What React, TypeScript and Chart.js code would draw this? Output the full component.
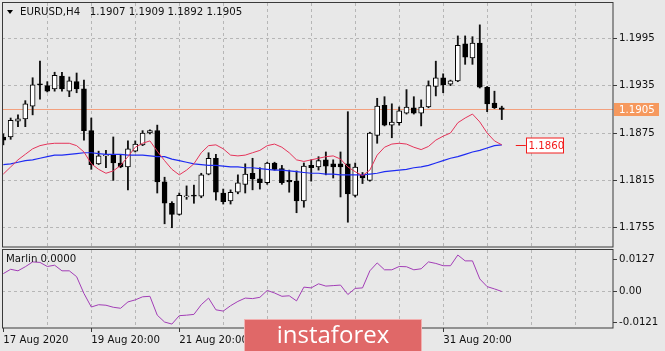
import React, { useEffect, useRef } from "react";
import { Chart, registerables } from "chart.js";

Chart.register(...registerables);

// ---------- data ----------
const SYMBOL = "EURUSD";
const TIMEFRAME = "H4";
const INDICATOR_NAME = "Marlin";

const OPEN = [
  1.1870, 1.1870, 1.1890, 1.1893, 1.1909, 1.1937, 1.1935, 1.1931, 1.1947, 1.1928,
  1.1940, 1.1931, 1.1878, 1.1836, 1.1846, 1.1848, 1.1837, 1.1832, 1.1852, 1.1860,
  1.1875, 1.1878, 1.1813, 1.1786, 1.1772, 1.1794, 1.1796, 1.1795, 1.1823, 1.1843,
  1.1799, 1.1789, 1.1800, 1.1810, 1.1824, 1.1817, 1.1812, 1.1837, 1.1830, 1.1815,
  1.1814, 1.1789, 1.1834, 1.1832, 1.1841, 1.1836, 1.1836, 1.1836, 1.1796, 1.1822,
  1.1815, 1.1872, 1.1910, 1.1885, 1.1888, 1.1900, 1.1907, 1.1900, 1.1908, 1.1934,
  1.1945, 1.1937, 1.1941, 1.1988, 1.1970, 1.1989, 1.1933, 1.1913, 1.1907,
];
const HIGH = [
  1.1874, 1.1894, 1.1898, 1.1916, 1.1945, 1.1966, 1.1940, 1.1952, 1.1952, 1.1946,
  1.1951, 1.1942, 1.1894, 1.1852, 1.1853, 1.1870, 1.1848, 1.1865, 1.1865, 1.1878,
  1.1879, 1.1885, 1.1819, 1.1788, 1.1799, 1.1808, 1.1809, 1.1824, 1.1850, 1.1848,
  1.1804, 1.1803, 1.1822, 1.1836, 1.1843, 1.1831, 1.1838, 1.1838, 1.1834, 1.1828,
  1.1827, 1.1837, 1.1841, 1.1845, 1.1851, 1.1841, 1.1851, 1.1902, 1.1837, 1.1825,
  1.1876, 1.1919, 1.1921, 1.1912, 1.1908, 1.1930, 1.1921, 1.1917, 1.1941, 1.1966,
  1.1950, 1.1942, 1.1998, 1.1998, 1.1997, 1.2012, 1.1934, 1.1928, 1.1909,
];
const LOW = [
  1.1860, 1.1867, 1.1883, 1.1883, 1.1898, 1.1918, 1.1927, 1.1928, 1.1928, 1.1921,
  1.1926, 1.1866, 1.1829, 1.1835, 1.1831, 1.1815, 1.1831, 1.1803, 1.1851, 1.1859,
  1.1874, 1.1799, 1.1760, 1.1755, 1.1771, 1.1791, 1.1786, 1.1793, 1.1822, 1.1790,
  1.1785, 1.1785, 1.1798, 1.1799, 1.1803, 1.1804, 1.1810, 1.1828, 1.1810, 1.1800,
  1.1774, 1.1781, 1.1814, 1.1828, 1.1822, 1.1818, 1.1794, 1.1762, 1.1794, 1.1811,
  1.1814, 1.1862, 1.1884, 1.1869, 1.1885, 1.1899, 1.1899, 1.1884, 1.1907, 1.1922,
  1.1926, 1.1935, 1.1940, 1.1962, 1.1962, 1.1932, 1.1902, 1.1906, 1.1892,
];
const CLOSE = [
  1.1866, 1.1891, 1.1893, 1.1912, 1.1936, 1.1936, 1.1928, 1.1948, 1.1931, 1.1941,
  1.1931, 1.1878, 1.1835, 1.1846, 1.1847, 1.1837, 1.1832, 1.1855, 1.1861, 1.1875,
  1.1878, 1.1813, 1.1786, 1.1772, 1.1796, 1.1795, 1.1795, 1.1822, 1.1843, 1.1800,
  1.1788, 1.1800, 1.1812, 1.1823, 1.1817, 1.1812, 1.1837, 1.1829, 1.1812, 1.1813,
  1.1789, 1.1833, 1.1831, 1.1840, 1.1833, 1.1832, 1.1832, 1.1798, 1.1832, 1.1818,
  1.1875, 1.1909, 1.1885, 1.1889, 1.1903, 1.1908, 1.1900, 1.1908, 1.1935, 1.1945,
  1.1936, 1.1941, 1.1986, 1.1971, 1.1989, 1.1933, 1.1912, 1.1907, 1.1905,
];
const MA_FAST = [
  1.1823, 1.1832, 1.1841, 1.1848, 1.1855, 1.1859, 1.1861, 1.1862, 1.1862, 1.1862,
  1.1859, 1.1851, 1.1836, 1.1829, 1.1824, 1.1827, 1.1834, 1.1845, 1.1857, 1.1862,
  1.1865, 1.1852, 1.1840, 1.1829, 1.1822, 1.1828, 1.1836, 1.1850, 1.1859, 1.1860,
  1.1855, 1.1847, 1.1846, 1.1847, 1.1850, 1.1853, 1.1859, 1.1861, 1.1857, 1.1850,
  1.1841, 1.1839, 1.1841, 1.1843, 1.1845, 1.1846, 1.1842, 1.1832, 1.1826, 1.1821,
  1.1828, 1.1847, 1.1857, 1.1861, 1.1862, 1.1861, 1.1857, 1.1854, 1.1858, 1.1866,
  1.1871, 1.1875, 1.1888, 1.1894, 1.1899, 1.1889, 1.1875, 1.1865, 1.1860,
];
const MA_SLOW = [
  1.1835, 1.1836, 1.1838, 1.1840, 1.1841, 1.1843, 1.1845, 1.1847, 1.1847, 1.1848,
  1.1849, 1.1850, 1.1850, 1.1849, 1.1848, 1.1848, 1.1848, 1.1847, 1.1847, 1.1847,
  1.1846, 1.1845, 1.1845, 1.1842, 1.1840, 1.1838, 1.1836, 1.1835, 1.1834, 1.1834,
  1.1833, 1.1832, 1.1832, 1.1831, 1.1831, 1.1830, 1.1829, 1.1828, 1.1828, 1.1827,
  1.1826, 1.1825, 1.1824, 1.1824, 1.1823, 1.1823, 1.1822, 1.1822, 1.1822, 1.1822,
  1.1823, 1.1824, 1.1826, 1.1827, 1.1828, 1.1829, 1.1831, 1.1832, 1.1834, 1.1837,
  1.1840, 1.1843, 1.1845, 1.1848, 1.1851, 1.1853, 1.1856, 1.1859, 1.1860,
];
const MARLIN = [
  0.0070, 0.0087, 0.0081, 0.0097, 0.0116, 0.0114, 0.0098, 0.0103, 0.0081, 0.0081,
  0.0058, -0.0008, -0.0061, -0.0052, -0.0054, -0.0062, -0.0066, -0.0041, -0.0033, -0.0021,
  -0.0019, -0.0093, -0.0120, -0.0128, -0.0095, -0.0093, -0.0090, -0.0052, -0.0026, -0.0072,
  -0.0077, -0.0056, -0.0039, -0.0026, -0.0028, -0.0023, 0.0004, -0.0006, -0.0019, -0.0017,
  -0.0037, 0.0017, 0.0014, 0.0030, 0.0021, 0.0023, 0.0025, -0.0012, 0.0012, 0.0014,
  0.0081, 0.0112, 0.0085, 0.0085, 0.0098, 0.0097, 0.0085, 0.0089, 0.0116, 0.0110,
  0.0101, 0.0101, 0.0143, 0.0120, 0.0120, 0.0049, 0.0019, 0.0010, 0.0000,
];

const PRICE_TICKS = [1.1755, 1.1815, 1.1875, 1.1935, 1.1995];
const MARLIN_TICKS = [-0.0121, 0, 0.0127];
const MARLIN_TICK_TEXT = ["-0.0121", "0.00", "0.0127"];
const TIME_TICK_BARS = [0, 12, 24, 36, 60];
const TIME_TICK_TEXT = [
  "17 Aug 2020",
  "19 Aug 20:00",
  "21 Aug 20:00",
  "25 Aug 20:00",
  "31 Aug 20:00",
];
const BARS_PER_GRID = 6;

// axis ranges
const X_MIN = -0.18;
const X_MAX = 83.17;
const PRICE_MIN = 1.17306;
const PRICE_MAX = 1.20397;
const MARLIN_MIN = -0.01434;
const MARLIN_MAX = 0.01627;

// ---------- style ----------
const BG = "#e8e8e8";
const GRID_COLOR = "#b6b6b6";
const FRAME_COLOR = "#3a3a3a";
const TEXT_COLOR = "#111111";
const FONT_FAMILY = "'DejaVu Sans', 'Liberation Sans', sans-serif";
const FONT_SIZE = 10.2;
const FONT = `${FONT_SIZE}px ${FONT_FAMILY}`;
const MA_FAST_COLOR = "#e5345a";
const MA_SLOW_COLOR = "#1f2cf2";
const MARLIN_COLOR = "#a23db6";
const PRICE_LINE_COLOR = "#f3a07e";
const PRICE_LABEL_BG = "#f6995e";
const LABEL_RED = "#f21c1c";

const GRID_BARS = Array.from({ length: 14 }, (_, k) => k * BARS_PER_GRID);

function drawFrame(ctx: CanvasRenderingContext2D, a: any) {
  ctx.save();
  ctx.strokeStyle = FRAME_COLOR;
  ctx.lineWidth = 1;
  ctx.strokeRect(a.left + 0.5, a.top - 0.5, a.right - a.left - 0.5, a.bottom - a.top + 0.5);
  ctx.restore();
}

function zeroPad(s: any) {
  s.paddingTop = 0;
  s.paddingBottom = 0;
  s.paddingLeft = 0;
  s.paddingRight = 0;
}

function makeMain(canvas: HTMLCanvasElement) {
  const last = CLOSE.length - 1;
  const decor = {
    id: "mainDecor",
    beforeDatasetsDraw(chart: any) {
      const { ctx, chartArea: a, scales } = chart;
      const py = Math.round(scales.y.getPixelForValue(CLOSE[last])) + 0.5;
      ctx.save();
      ctx.strokeStyle = PRICE_LINE_COLOR;
      ctx.lineWidth = 1;
      ctx.beginPath();
      ctx.moveTo(a.left, py);
      ctx.lineTo(a.right, py);
      ctx.stroke();
      ctx.restore();
    },
    afterDraw(chart: any) {
      const { ctx, chartArea: a, scales } = chart;
      drawFrame(ctx, a);
      ctx.save();
      ctx.font = FONT;
      ctx.textBaseline = "middle";
      ctx.textAlign = "left";
      // current price label on the axis
      const py = Math.round(scales.y.getPixelForValue(CLOSE[last]));
      ctx.fillStyle = PRICE_LABEL_BG;
      ctx.fillRect(a.right + 1, py - 6, 45, 13);
      ctx.fillStyle = "#ffffff";
      ctx.fillText(CLOSE[last].toFixed(4), a.right + 6, py + 1);
      // moving average value label
      const mx = scales.x.getPixelForValue(last);
      const my = Math.round(scales.y.getPixelForValue(MA_FAST[last])) + 0.5;
      ctx.strokeStyle = LABEL_RED;
      ctx.lineWidth = 1;
      ctx.beginPath();
      ctx.moveTo(mx + 14, my);
      ctx.lineTo(mx + 24, my);
      ctx.stroke();
      const bx = Math.round(mx + 24) + 0.5;
      ctx.fillStyle = "#ffffff";
      ctx.fillRect(bx, my - 7.5, 37, 15);
      ctx.strokeRect(bx, my - 7.5, 37, 15);
      ctx.fillStyle = LABEL_RED;
      ctx.fillText(MA_FAST[last].toFixed(4), bx + 2, my + 0.5);
      // title
      ctx.fillStyle = "#000000";
      ctx.beginPath();
      ctx.moveTo(7, 10);
      ctx.lineTo(13, 10);
      ctx.lineTo(10, 14);
      ctx.closePath();
      ctx.fill();
      ctx.fillStyle = TEXT_COLOR;
      const title = `${SYMBOL},${TIMEFRAME}   ${OPEN[last].toFixed(4)} ${HIGH[last].toFixed(4)} ${LOW[last].toFixed(4)} ${CLOSE[last].toFixed(4)}`;
      ctx.fillText(title, 20, 12.5);
      ctx.restore();
    },
  };

  return new Chart(canvas, {
    type: "bar",
    data: {
      datasets: [
        {
          type: "line",
          label: "MA fast",
          data: MA_FAST.map((v, i) => ({ x: i, y: v })),
          borderColor: MA_FAST_COLOR,
          borderWidth: 1,
          pointRadius: 0,
          tension: 0,
          order: 0,
        } as any,
        {
          type: "line",
          label: "MA slow",
          data: MA_SLOW.map((v, i) => ({ x: i, y: v })),
          borderColor: MA_SLOW_COLOR,
          borderWidth: 1.2,
          pointRadius: 0,
          tension: 0,
          order: 1,
        },
        {
          type: "bar",
          label: "body",
          data: OPEN.map((o, i) => ({ x: i, y: [o, CLOSE[i]] })),
          backgroundColor: OPEN.map((o, i) => (CLOSE[i] > o ? "#ffffff" : "#000000")),
          borderColor: "#000000",
          borderWidth: 1,
          borderSkipped: false,
          barThickness: 5,
          minBarLength: 1,
          grouped: false,
          order: 2,
        },
        {
          type: "bar",
          label: "wick",
          data: LOW.map((l, i) => ({ x: i, y: [l, HIGH[i]] })),
          backgroundColor: "#111111",
          borderWidth: 0,
          barThickness: 1.2,
          grouped: false,
          order: 3,
        },
      ],
    } as any,
    options: {
      animation: false,
      responsive: false,
      maintainAspectRatio: false,
      devicePixelRatio: 1,
      events: [],
      layout: { padding: { left: 2, top: 3, right: 0, bottom: 2 } },
      plugins: { legend: { display: false }, tooltip: { enabled: false } },
      scales: {
        x: {
          type: "linear",
          min: X_MIN,
          max: X_MAX,
          offset: false,
          afterBuildTicks: (s: any) => {
            s.ticks = GRID_BARS.filter((v) => v > 0).map((v) => ({ value: v }));
          },
          afterFit: (s: any) => {
            s.height = 0;
            zeroPad(s);
          },
          ticks: { display: false },
          grid: { color: GRID_COLOR, drawTicks: false, offset: false, lineWidth: 1 },
          border: { display: false, dash: [3, 3] },
        },
        y: {
          type: "linear",
          position: "right",
          min: PRICE_MIN,
          max: PRICE_MAX,
          beginAtZero: false,
          afterBuildTicks: (s: any) => {
            s.ticks = PRICE_TICKS.map((v) => ({ value: v }));
          },
          afterFit: (s: any) => {
            s.width = 52;
            zeroPad(s);
          },
          ticks: {
            callback: (v: any) => Number(v).toFixed(4),
            color: TEXT_COLOR,
            font: { family: FONT_FAMILY, size: FONT_SIZE },
            padding: 2,
          },
          grid: {
            color: GRID_COLOR,
            drawTicks: true,
            tickLength: 4,
            tickColor: FRAME_COLOR,
            tickBorderDash: [],
          },
          border: { display: false, dash: [3, 3] },
        },
      },
    } as any,
    plugins: [decor],
  });
}

function makeSub(canvas: HTMLCanvasElement) {
  const last = MARLIN.length - 1;
  const decor = {
    id: "subDecor",
    afterDraw(chart: any) {
      const { ctx, chartArea: a } = chart;
      drawFrame(ctx, a);
      ctx.save();
      ctx.font = FONT;
      ctx.textBaseline = "middle";
      ctx.textAlign = "left";
      ctx.fillStyle = TEXT_COLOR;
      ctx.fillText(`${INDICATOR_NAME} ${MARLIN[last].toFixed(4)}`, 6, a.top + 9.5);
      // watermark
      ctx.fillStyle = "#e06868";
      ctx.fillRect(244, 70, 178, 32);
      ctx.strokeStyle = "#f2b0b0";
      ctx.lineWidth = 1;
      ctx.strokeRect(244.5, 70.5, 177, 33);
      ctx.fillStyle = "#ffffff";
      ctx.font = "24px 'Open Sans', 'DejaVu Sans', sans-serif";
      ctx.textAlign = "center";
      ctx.fillText("instaforex", 333, 87);
      ctx.restore();
    },
  };

  return new Chart(canvas, {
    type: "line",
    data: {
      datasets: [
        {
          label: INDICATOR_NAME,
          data: MARLIN.map((v, i) => ({ x: i, y: v })),
          borderColor: MARLIN_COLOR,
          borderWidth: 1,
          pointRadius: 0,
          tension: 0,
        },
      ],
    },
    options: {
      animation: false,
      responsive: false,
      maintainAspectRatio: false,
      devicePixelRatio: 1,
      events: [],
      layout: { padding: { left: 2, top: 1, right: 0, bottom: 0 } },
      plugins: { legend: { display: false }, tooltip: { enabled: false } },
      scales: {
        x: {
          type: "linear",
          min: X_MIN,
          max: X_MAX,
          offset: false,
          afterBuildTicks: (s: any) => {
            s.ticks = GRID_BARS.map((v) => ({ value: v }));
          },
          afterFit: (s: any) => {
            s.height = 23;
            zeroPad(s);
          },
          ticks: {
            autoSkip: false,
            maxRotation: 0,
            minRotation: 0,
            align: "start",
            padding: 2,
            color: TEXT_COLOR,
            font: { family: FONT_FAMILY, size: FONT_SIZE },
            callback: (v: any) => {
              const k = TIME_TICK_BARS.indexOf(Number(v));
              return k >= 0 ? TIME_TICK_TEXT[k] : "";
            },
          },
          grid: {
            color: (c: any) => (c.tick && c.tick.value === 0 ? "rgba(0,0,0,0)" : GRID_COLOR),
            tickColor: (c: any) =>
              c.tick && TIME_TICK_BARS.indexOf(c.tick.value) >= 0 ? FRAME_COLOR : "rgba(0,0,0,0)",
            drawTicks: true,
            tickLength: 4,
            tickBorderDash: [],
            offset: false,
          },
          border: { display: false, dash: [3, 3] },
        },
        y: {
          type: "linear",
          position: "right",
          min: MARLIN_MIN,
          max: MARLIN_MAX,
          afterBuildTicks: (s: any) => {
            s.ticks = MARLIN_TICKS.map((v) => ({ value: v }));
          },
          afterFit: (s: any) => {
            s.width = 52;
            zeroPad(s);
          },
          ticks: {
            color: TEXT_COLOR,
            font: { family: FONT_FAMILY, size: FONT_SIZE },
            padding: 2,
            callback: (v: any) => {
              const k = MARLIN_TICKS.indexOf(Number(v));
              return k >= 0 ? MARLIN_TICK_TEXT[k] : "";
            },
          },
          grid: {
            color: (c: any) => (c.tick && c.tick.value === 0 ? GRID_COLOR : "rgba(0,0,0,0)"),
            tickColor: FRAME_COLOR,
            drawTicks: true,
            tickLength: 4,
            tickBorderDash: [],
          },
          border: { display: false, dash: [3, 3] },
        },
      },
    } as any,
    plugins: [decor],
  });
}

export default function App() {
  const mainRef = useRef<HTMLCanvasElement>(null);
  const subRef = useRef<HTMLCanvasElement>(null);

  useEffect(() => {
    document.body.style.margin = "0";
    const a = makeMain(mainRef.current as HTMLCanvasElement);
    const b = makeSub(subRef.current as HTMLCanvasElement);
    return () => {
      a.destroy();
      b.destroy();
    };
  }, []);

  return (
    <div
      style={{
        position: "fixed",
        left: 0,
        top: 0,
        width: 665,
        height: 351,
        background: BG,
        overflow: "hidden",
      }}
    >
      <canvas
        ref={mainRef}
        width={665}
        height={249}
        style={{ position: "absolute", left: 0, top: 0, width: 665, height: 249 }}
      />
      <canvas
        ref={subRef}
        width={665}
        height={102}
        style={{ position: "absolute", left: 0, top: 249, width: 665, height: 102 }}
      />
    </div>
  );
}
